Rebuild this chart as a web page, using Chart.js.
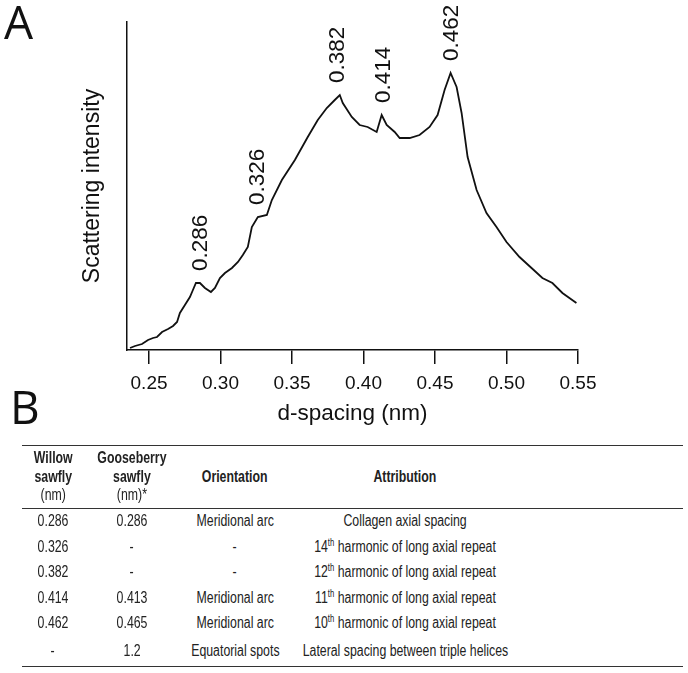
<!DOCTYPE html>
<html>
<head>
<meta charset="utf-8">
<script src="https://cdn.jsdelivr.net/npm/chart.js@4/dist/chart.umd.min.js"></script>
<style>
  html, body { margin: 0; padding: 0; background: #fff; }
  body { width: 688px; height: 673px; position: relative; overflow: hidden; font-family: "Liberation Sans", Arial, sans-serif; color: #111; }
  #wrap { position: absolute; left: 0; top: 0; width: 688px; height: 440px; }
  .panel { position: absolute; font-family: "Open Sans", "Liberation Sans", sans-serif; font-size: 46px; line-height: 1; color: #111; }
  #pA { left: 4px; top: -2px; }
  #pB { left: 10px; top: 383px; }
  table { position: absolute; left: 22px; top: 445px; width: 661px; border-collapse: collapse; table-layout: fixed;
          font-family: "Liberation Sans", Arial, sans-serif; font-size: 16px; color: #222; }
  table { border-top: 1.5px solid #333; border-bottom: 1.5px solid #333; }
  thead tr { border-bottom: 1.5px solid #333; }
  th { font-weight: bold; line-height: 18.5px; padding: 3px 0 3px 0; text-align: center; vertical-align: middle; overflow: visible; }
  th .r { font-weight: normal; }
  td { text-align: center; padding: 0; height: 25.5px; line-height: 18px; white-space: nowrap; overflow: visible; }
  tr.last td { height: 30px; }
  .n { display: inline-block; transform: scaleX(0.77); transform-origin: 50% 50%; white-space: nowrap; margin: 0 -40px; }
  sup { font-size: 10px; line-height: 0; vertical-align: 6px; }
</style>
</head>
<body>
<div id="wrap"><canvas id="c" width="688" height="440"></canvas></div>
<div class="panel" id="pA">A</div>
<div class="panel" id="pB">B</div>
<table>
  <colgroup>
    <col style="width:62px"><col style="width:96px"><col style="width:110px"><col style="width:230px"><col>
  </colgroup>
  <thead>
    <tr>
      <th><span class="n">Willow<br>sawfly<br><span class="r">(nm)</span></span></th>
      <th><span class="n">Gooseberry<br>sawfly<br><span class="r">(nm)*</span></span></th>
      <th><span class="n">Orientation</span></th>
      <th><span class="n">Attribution</span></th>
      <th></th>
    </tr>
  </thead>
  <tbody id="tb"></tbody>
</table>
<script>
// ---- Data ----
const dSpacing = [0.2367,0.2402,0.2451,0.2493,0.2528,0.2556,0.2591,0.2633,0.2668,0.2696,0.2716,0.2751,0.2786,0.2807,0.2828,0.2856,0.2891,0.2933,0.2961,0.2996,0.3031,0.3080,0.3122,0.3156,0.3191,0.3219,0.3261,0.3324,0.3359,0.3429,0.3520,0.3610,0.3680,0.3743,0.3799,0.3834,0.3855,0.3918,0.3973,0.4029,0.4092,0.4127,0.4162,0.4218,0.4253,0.4323,0.4392,0.4462,0.4518,0.4567,0.4609,0.4651,0.4686,0.4728,0.4791,0.4860,0.4930,0.5000,0.5091,0.5175,0.5251,0.5321,0.5391,0.5489];
const intensity = [2,4,6,10,12,13,18,21,24,28,37,45,53,60,67,67,62,58,62,72,77,82,88,95,103,123,133,135,150,170,190,213,230,242,250,255,247,233,225,223,218,235,225,218,212,212,215,223,235,260,277,263,237,193,160,137,123,108,93,82,72,67,57,47];
const xTicks = [0.25,0.30,0.35,0.40,0.45,0.50,0.55];
const peakValues = [0.286,0.326,0.382,0.414,0.462];
const peakLabels = ['0.286','0.326','0.382','0.414','0.462'];

const colWillow = ['0.286','0.326','0.382','0.414','0.462','-'];
const colGooseberry = ['0.286','-','-','0.413','0.465','1.2'];
const colOrientation = ['Meridional arc','-','-','Meridional arc','Meridional arc','Equatorial spots'];
const colAttribution = ['Collagen axial spacing','14<sup>th</sup> harmonic of long axial repeat','12<sup>th</sup> harmonic of long axial repeat','11<sup>th</sup> harmonic of long axial repeat','10<sup>th</sup> harmonic of long axial repeat','Lateral spacing between triple helices'];

// ---- Table ----
const tb = document.getElementById('tb');
const cell = s => '<td><span class="n">' + s + '</span></td>';
colWillow.forEach((w, i) => {
  const tr = document.createElement('tr');
  if (i === colWillow.length - 1) tr.className = 'last';
  tr.innerHTML = cell(w) + cell(colGooseberry[i]) + cell(colOrientation[i]) + cell(colAttribution[i]) + '<td></td>';
  tb.appendChild(tr);
});

// ---- Chart ----
const peakLabelPlugin = {
  id: 'peakLabels',
  afterDatasetsDraw(chart) {
    const {ctx, scales: {x, y}} = chart;
    ctx.save();
    ctx.font = '22.5px "Liberation Sans", Arial, sans-serif';
    ctx.fillStyle = '#111';
    ctx.textAlign = 'left';
    ctx.textBaseline = 'middle';
    peakValues.forEach((p, i) => {
      let best = -Infinity;
      dSpacing.forEach((d, j) => { if (Math.abs(d - p) < 0.004 && intensity[j] > best) best = intensity[j]; });
      const px = x.getPixelForValue(p);
      const py = y.getPixelForValue(best) - 12;
      ctx.save();
      ctx.translate(px, py);
      ctx.rotate(-Math.PI / 2);
      ctx.fillText(peakLabels[i], 0, 0);
      ctx.restore();
    });
    ctx.restore();
  }
};

new Chart(document.getElementById('c'), {
  type: 'line',
  data: {
    datasets: [{
      data: dSpacing.map((d, i) => ({x: d, y: intensity[i]})),
      borderColor: '#111',
      borderWidth: 1.8,
      pointRadius: 0,
      tension: 0,
      fill: false
    }]
  },
  options: {
    responsive: false,
    animation: false,
    events: [],
    layout: { padding: { top: 22, right: 110, left: 0, bottom: 0 } },
    plugins: { legend: { display: false }, tooltip: { enabled: false } },
    scales: {
      x: {
        type: 'linear',
        min: 0.2346,
        max: 0.55,
        afterBuildTicks(scale) { scale.ticks = xTicks.map(v => ({value: v})); },
        afterFit(scale) { scale.height = 90; },
        border: { display: true, color: '#111', width: 1.5 },
        grid: { display: true, drawOnChartArea: false, drawTicks: true, tickLength: 14, color: '#111', lineWidth: 1.5 },
        ticks: {
          color: '#111',
          padding: 8,
          maxRotation: 0,
          autoSkip: false,
          font: { family: '"Liberation Sans", Arial, sans-serif', size: 19 },
          callback: v => v.toFixed(2)
        },
        title: {
          display: true,
          text: 'd-spacing (nm)',
          color: '#111',
          font: { family: '"Liberation Sans", Arial, sans-serif', size: 22.5 },
          padding: { top: 0, bottom: 13 }
        }
      },
      y: {
        type: 'linear',
        min: 0,
        max: 328,
        afterFit(scale) { scale.width = 127; },
        border: { display: true, color: '#111', width: 1.5 },
        grid: { display: false },
        ticks: { display: false },
        title: {
          display: true,
          text: 'Scattering intensity',
          color: '#111',
          font: { family: '"Liberation Sans", Arial, sans-serif', size: 23 },
          padding: { top: 79, bottom: 0 }
        }
      }
    }
  },
  plugins: [peakLabelPlugin]
});
</script>
</body>
</html>
